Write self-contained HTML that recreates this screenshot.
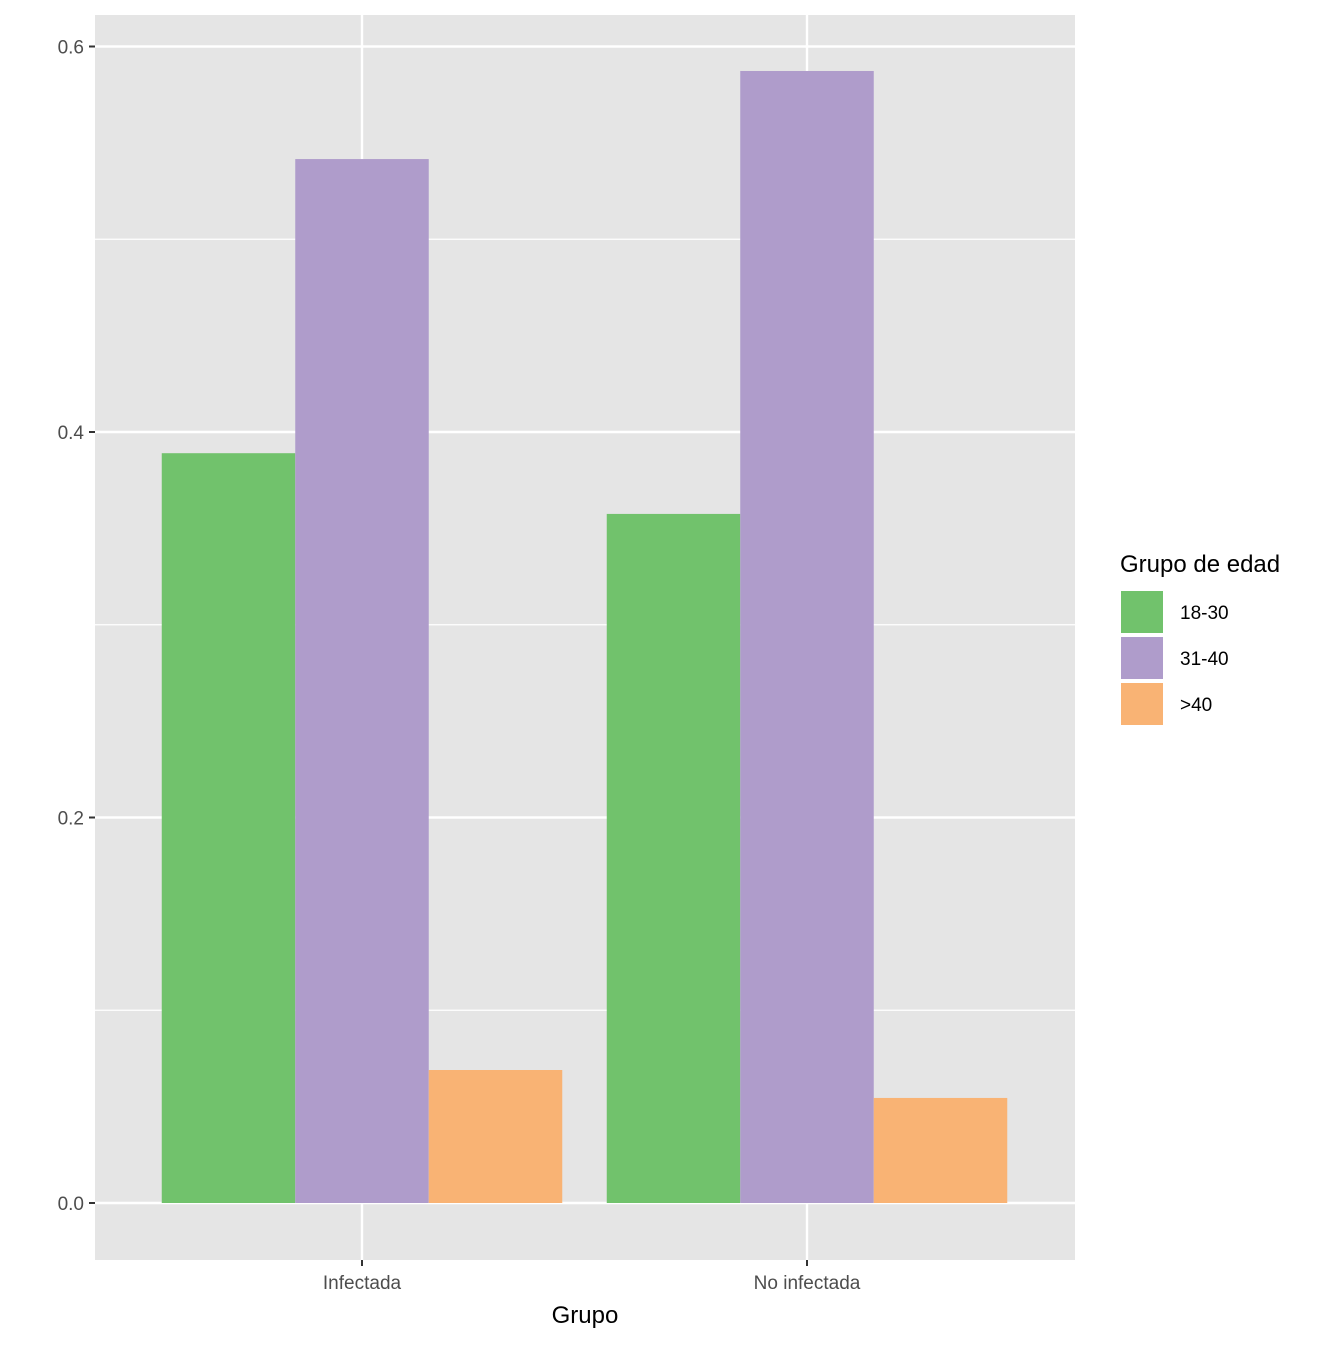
<!DOCTYPE html>
<html><head><meta charset="utf-8"><style>
body{margin:0;background:#fff;}
text{font-family:"Liberation Sans",Arial,sans-serif;}
</style></head><body>
<svg width="1344" height="1344" xmlns="http://www.w3.org/2000/svg">
<g id="plot"></g>
</svg>
<script>
const categories=["Infectada","No infectada"];
const groups=["18-30","31-40",">40"];
const colors=["#71c26c","#af9ccb","#f9b374"];
const vals1830=[0.389,0.3575];
const vals3140=[0.5416,0.5873];
const vals40=[0.069,0.0545];
const yTicks=[0,0.2,0.4,0.6];
const series=[vals1830,vals3140,vals40];
const NS="http://www.w3.org/2000/svg";
const g=document.getElementById('plot');
function el(t,a,p){const e=document.createElementNS(NS,t);for(const k in a)e.setAttribute(k,a[k]);(p||g).appendChild(e);return e;}
const PL=95,PR=1075,PT=15,PB=1260;
const y=v=>1203-v*1927.5;
const xc=i=>362+i*445;
const bg=el('rect',{x:PL,y:PT,width:PR-PL,height:PB-PT,fill:'#e5e5e5'});


for(let i=0;i<yTicks.length-1;i++){const m=(yTicks[i]+yTicks[i+1])/2;
 const l=el('line',{x1:PL,x2:PR,y1:y(m),y2:y(m),stroke:'#fff','stroke-width':1.2});
 
 }
yTicks.forEach(t=>{
 const l=el('line',{x1:PL,x2:PR,y1:y(t),y2:y(t),stroke:'#fff','stroke-width':2.4});
 
 
 el('line',{x1:89,x2:95,y1:y(t),y2:y(t),stroke:'#333','stroke-width':2});
 const tx=el('text',{x:84,y:y(t)+7,'text-anchor':'end','font-size':19,fill:'#4d4d4d'});tx.textContent=t.toFixed(1);
 
 
});
categories.forEach((c,i)=>{
 const l=el('line',{x1:xc(i),x2:xc(i),y1:PT,y2:PB,stroke:'#fff','stroke-width':2.4});
 
 
 el('line',{x1:xc(i),x2:xc(i),y1:PB,y2:PB+6,stroke:'#333','stroke-width':2});
 const tx=el('text',{x:xc(i),y:1289,'text-anchor':'middle','font-size':19,fill:'#4d4d4d'});tx.textContent=c;
 
 
});
const bw=445*0.9/3;
series.forEach((s,k)=>s.forEach((v,i)=>{
 const x0=xc(i)-445*0.45+k*bw;
 const r=el('rect',{x:x0,y:y(v),width:bw,height:y(0)-y(v),fill:colors[k]});
 
 
}));
const xt=el('text',{x:585,y:1323,'text-anchor':'middle','font-size':24,fill:'#000'});xt.textContent='Grupo';


const lt=el('text',{x:1120,y:572,'font-size':24,fill:'#000'});lt.textContent='Grupo de edad';


groups.forEach((gname,k)=>{
 const yy=590+k*46;
 const r=el('rect',{x:1120,y:yy,width:44,height:44,fill:colors[k],stroke:'#fff','stroke-width':2});
 
 
 const t=el('text',{x:1180,y:yy+29,'font-size':19,fill:'#000'});t.textContent=gname;
 
 
});
</script>
</body></html>
